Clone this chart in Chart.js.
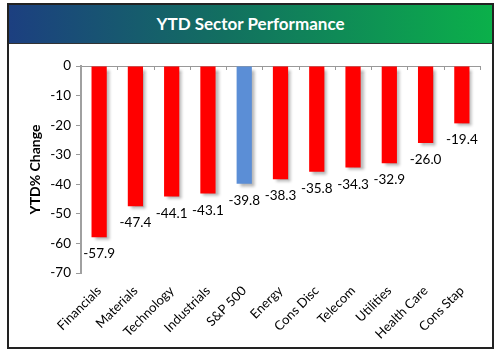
<!DOCTYPE html>
<html><head><meta charset="utf-8">
<script src="https://cdn.jsdelivr.net/npm/chart.js@4"></script>
<style>
html,body{margin:0;padding:0;background:#fff;}
#frame{position:absolute;left:7px;top:3px;width:483px;height:342px;border:2px solid #222;background:#fff;}
#title{position:absolute;left:0;top:0;width:483px;height:38px;background:linear-gradient(to right,#1c3f80,#127060 45%,#0bb04a);color:#fff;font:bold 17px Lato,"Open Sans",sans-serif;text-align:center;line-height:38px;border-bottom:1px solid #333;}
#wrap{position:absolute;left:0;top:39px;width:483px;height:303px;}
</style></head><body>
<div id="frame"><div id="title">YTD Sector Performance</div><div id="wrap"><canvas id="c" width="483" height="303"></canvas></div></div>
<script>
const categories=["Financials","Materials","Technology","Industrials","S&P 500","Energy","Cons Disc","Telecom","Utilities","Health Care","Cons Stap"];
const values=[-57.9,-47.4,-44.1,-43.1,-39.8,-38.3,-35.8,-34.3,-32.9,-26.0,-19.4];
const yTicks=[0,-10,-20,-30,-40,-50,-60,-70];
const highlight="S&P 500";
const FONT="Lato, 'Open Sans', sans-serif";

const shadowPlugin={id:'shadow',
 beforeDatasetsDraw(ch){const c=ch.ctx;c.save();c.shadowColor='rgba(0,0,0,0.3)';c.shadowBlur=3;c.shadowOffsetX=3;c.shadowOffsetY=3;},
 afterDatasetsDraw(ch){ch.ctx.restore();}};
const extras={id:'extras',
 afterDraw(ch){const c=ch.ctx;const meta=ch.getDatasetMeta(0);const xs=ch.scales.x,ys=ch.scales.y;
  c.save();c.fillStyle='#000';c.font='13.5px '+FONT;c.textAlign='center';c.textBaseline='top';
  meta.data.forEach((b,i)=>{c.fillText(values[i].toFixed(1),b.x,b.y+10);});
  const y0=ys.getPixelForValue(0);c.strokeStyle='#999';c.lineWidth=1;
  for(let i=1;i<=categories.length;i++){const x=Math.round(xs.getPixelForValue(i-0.5))+0.5;c.beginPath();c.moveTo(x,y0);c.lineTo(x,y0+4);c.stroke();}
  c.restore();}};

new Chart(document.getElementById('c'),{type:'bar',
 data:{labels:categories,datasets:[{data:values,
  backgroundColor:categories.map(l=>l===highlight?'#5b8ed6':'#ff0000'),
  barPercentage:0.42,categoryPercentage:1}]},
 options:{responsive:false,animation:false,
  layout:{padding:{top:22,right:12,left:14,bottom:0}},
  plugins:{legend:{display:false},tooltip:{enabled:false}},
  scales:{
   x:{offset:true,grid:{display:false},border:{display:false},
     ticks:{minRotation:45,maxRotation:45,color:'#000',font:{family:FONT,size:13},padding:2},
     afterFit(s){s.height=74;}},
   y:{min:-70,max:0,afterBuildTicks(s){s.ticks=yTicks.map(v=>({value:v}));},
     grid:{color:c=>c.tick&&c.tick.value===0?'#999':'rgba(0,0,0,0)',tickColor:'#999',tickLength:5,drawTicks:true},
     border:{display:true,color:'#a0a0a0',width:2},
     ticks:{color:'#000',font:{family:FONT,size:13.5},padding:5},
     title:{display:true,text:'YTD% Change',color:'#000',font:{family:FONT,size:14,weight:'bold'}},
     afterFit(s){s.width=58;}}
  }},
 plugins:[shadowPlugin,extras]});
</script></body></html>
